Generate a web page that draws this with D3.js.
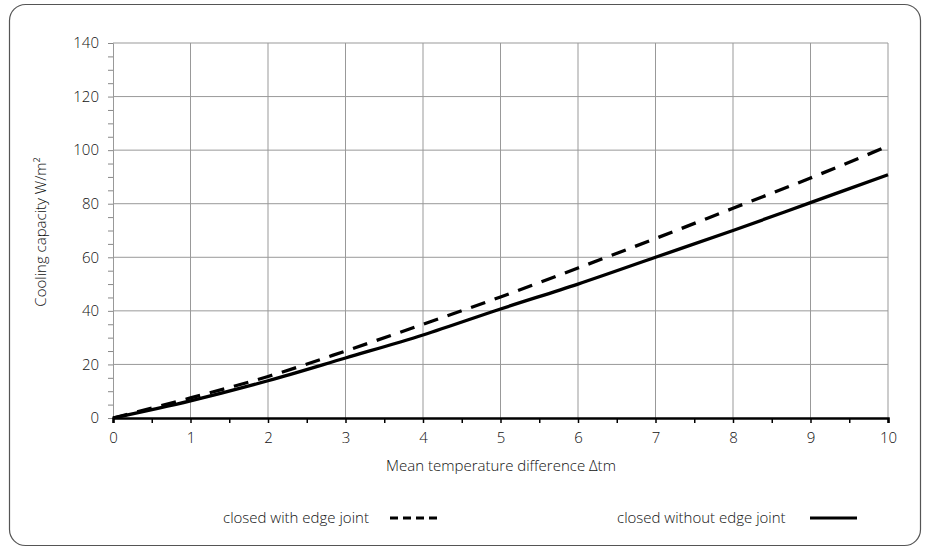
<!DOCTYPE html>
<html><head><meta charset="utf-8">
<script src="https://cdn.jsdelivr.net/npm/d3@7"></script>
<style>body{margin:0;background:#fff}svg{display:block}text{font-family:"Open Sans",Lato,sans-serif;font-weight:300;fill:#111}</style>
</head><body><svg id="c" width="928" height="548"></svg>
<script>
const xValues = [0,1,2,3,4,5,6,7,8,9,10];
const withJoint = [0,7.5,15.5,25,35,45.2,56,67,78.3,89.6,101.5];
const withoutJoint = [0,6.4,13.9,22.4,31,40.7,50,60,70,80.4,90.8];
const xTicks = [0,1,2,3,4,5,6,7,8,9,10];
const yTicks = [0,20,40,60,80,100,120,140];
const legendLabels = ["closed with edge joint","closed without edge joint"];
const xLabel = "Mean temperature difference \u0394tm";
const yLabel = "Cooling capacity W/m\u00b2";

const FS = 15;
const svg = d3.select("#c");
svg.append("rect").attr("x",9.5).attr("y",4.5).attr("width",911).attr("height",541).attr("rx",16)
  .attr("fill","none").attr("stroke","#555").attr("stroke-width",1.2);

const x = d3.scaleLinear().domain([0,10]).range([113,888]);
const y = d3.scaleLinear().domain([0,140]).range([418,43]);

// gridlines
const g = svg.append("g");
g.selectAll(".vg").data(xTicks.slice(1)).join("line")
  .attr("x1",d=>x(d)).attr("x2",d=>x(d)).attr("y1",y(140)).attr("y2",y(0))
  .attr("stroke","#999").attr("stroke-width",1);
g.selectAll(".hg").data(yTicks.slice(1)).join("line")
  .attr("x1",x(0)).attr("x2",x(10)).attr("y1",d=>y(d)).attr("y2",d=>y(d))
  .attr("stroke","#999").attr("stroke-width",1);

// y axis
const yAx = svg.append("g").attr("transform",`translate(${x(0)},0)`)
  .call(d3.axisLeft(y).tickValues(d3.range(0,141,5)).tickSize(5).tickFormat(d=>yTicks.includes(d)?d:""));
yAx.select(".domain").attr("stroke","#999");
yAx.selectAll(".tick line").attr("stroke","#888");
yAx.selectAll("text").attr("font-size",FS).attr("fill","#111").attr("x",-14);

// x axis
const xAx = svg.append("g").attr("transform",`translate(0,${y(0)})`)
  .call(d3.axisBottom(x).tickValues(d3.range(0,10.01,0.5)).tickSize(5).tickFormat(d=>Number.isInteger(d)?d:""));
xAx.select(".domain").attr("stroke","#000").attr("stroke-width",2.5);
xAx.selectAll(".tick line").attr("stroke","#000").attr("stroke-width",1.5);
xAx.selectAll("text").attr("font-size",FS).attr("fill","#111").attr("y",14);
svg.selectAll(".domain").attr("fill","none");
svg.selectAll(".tick text").attr("font-family","'Open Sans',Lato,sans-serif").attr("font-weight",300);

// lines
const line = d3.line().x((d,i)=>x(xValues[i])).y(d=>y(d)).curve(d3.curveMonotoneX);
svg.append("path").datum(withoutJoint).attr("d",line).attr("fill","none").attr("stroke","#000").attr("stroke-width",3.3);
svg.append("path").datum(withJoint).attr("d",line).attr("fill","none").attr("stroke","#000").attr("stroke-width",3.3)
  .attr("stroke-dasharray","15,10");

// axis labels
svg.append("text").attr("x",501).attr("y",471).attr("text-anchor","middle").attr("font-size",FS).text(xLabel);
svg.append("text").attr("transform","translate(46,232) rotate(-90)").attr("text-anchor","middle").attr("font-size",FS).text(yLabel);

// legend
const leg = [{t:legendLabels[0],tx:223,lx1:390,lx2:440,dash:"8,5"},{t:legendLabels[1],tx:617,lx1:810,lx2:857,dash:null}];
leg.forEach(l=>{
  svg.append("text").attr("x",l.tx).attr("y",523).attr("font-size",FS).text(l.t);
  const ln = svg.append("line").attr("x1",l.lx1).attr("x2",l.lx2).attr("y1",518).attr("y2",518).attr("stroke","#000").attr("stroke-width",3);
  if(l.dash) ln.attr("stroke-dasharray",l.dash);
});
</script></body></html>
